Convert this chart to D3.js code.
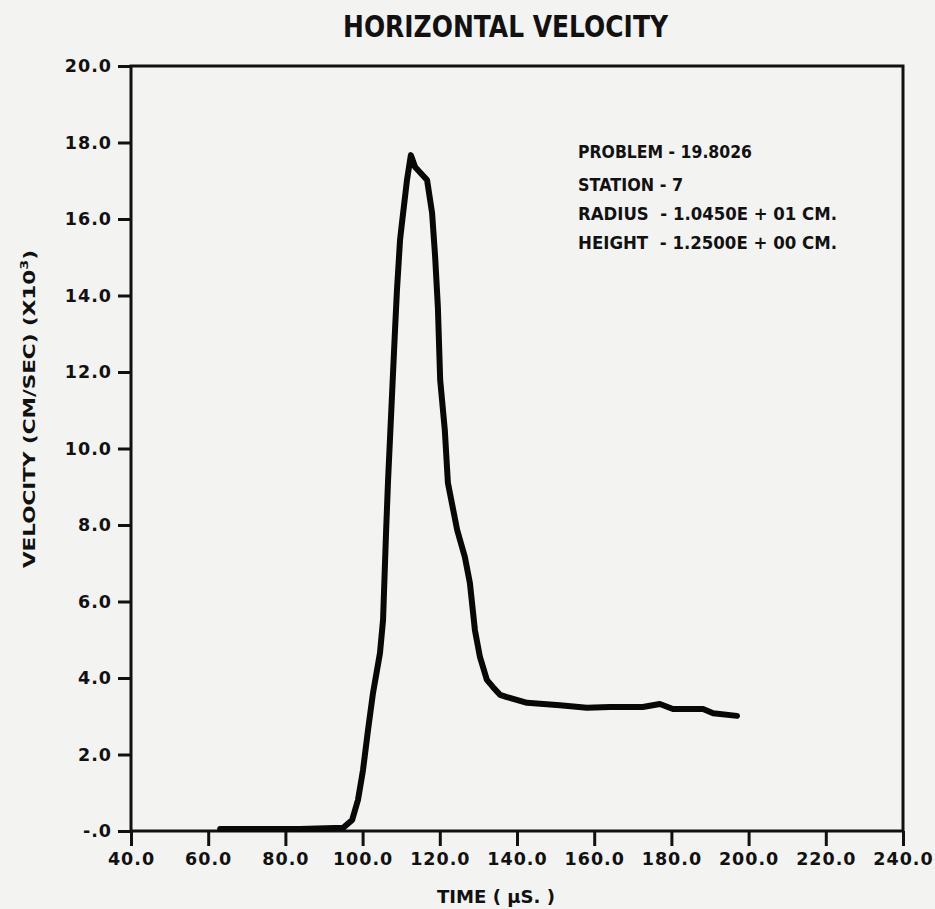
<!DOCTYPE html>
<html>
<head>
<meta charset="utf-8">
<script src="https://cdn.jsdelivr.net/npm/d3@7"></script>
<style>
  html, body { margin: 0; background: #f3f3f1; }
  svg { display: block; font-family: "DejaVu Sans", sans-serif; font-weight: bold; }
  .axis text { font-family: "DejaVu Sans", sans-serif; font-weight: bold; fill: #111; }
</style>
</head>
<body>
<svg id="chart"></svg>
<script>
var time = [63.1, 83.8, 92.8, 94.9, 97.3, 98.8, 100.1, 101.4, 102.7, 104.5, 105.3, 106.1, 106.6, 107.6,
  108.4, 108.9, 109.7, 110.2, 111.5, 112.5, 113.6, 116.7, 118.0, 118.8, 119.5, 120.1, 121.3, 122.1,
  124.5, 126.5, 127.8, 129.1, 130.4, 132.2, 133.8, 135.6, 137.4, 142.6, 151.1, 158.1, 164.1, 172.6,
  177.0, 180.4, 188.2, 190.8, 197.0];
var velocity = [0.05, 0.05, 0.08, 0.08, 0.29, 0.81, 1.59, 2.64, 3.61, 4.65, 5.52, 7.87, 9.18, 11.35,
  13.10, 14.14, 15.45, 15.90, 17.02, 17.67, 17.36, 17.02, 16.16, 15.00, 13.70, 11.79, 10.48, 9.10,
  7.87, 7.16, 6.48, 5.25, 4.55, 3.95, 3.76, 3.56, 3.50, 3.35, 3.29, 3.22, 3.24, 3.24,
  3.32, 3.19, 3.19, 3.08, 3.01];

var xTicks = [40, 60, 80, 100, 120, 140, 160, 180, 200, 220, 240];
var xTickLabels = ["40.0", "60.0", "80.0", "100.0", "120.0", "140.0", "160.0", "180.0", "200.0", "220.0", "240.0"];
var yTicks = [0, 2, 4, 6, 8, 10, 12, 14, 16, 18, 20];
var yTickLabels = ["-.0", "2.0", "4.0", "6.0", "8.0", "10.0", "12.0", "14.0", "16.0", "18.0", "20.0"];

var legendLines = ["PROBLEM - 19.8026", "STATION - 7", "RADIUS  - 1.0450E + 01 CM.", "HEIGHT  - 1.2500E + 00 CM."];
var legendWidths = [174, 105, 259, 259];

var W = 935, H = 909, M = { t: 66, r: 32, b: 78, l: 131 };
var iw = W - M.l - M.r, ih = H - M.t - M.b;
var ink = "#111";

var svg = d3.select("#chart").attr("width", W).attr("height", H);

svg.append("text").attr("x", 343).attr("y", 37).attr("font-size", 31)
  .attr("textLength", 325).attr("lengthAdjust", "spacingAndGlyphs").attr("fill", ink)
  .text("HORIZONTAL VELOCITY");

var g = svg.append("g").attr("transform", "translate(" + M.l + "," + M.t + ")");
var x = d3.scaleLinear().domain([40, 240]).range([0, iw]);
var y = d3.scaleLinear().domain([0, 20]).range([ih, 0]);

// axes (ticks only, frame drawn separately)
var gx = g.append("g").attr("class", "axis").attr("transform", "translate(0," + ih + ")")
  .call(d3.axisBottom(x).tickValues(xTicks).tickSize(15).tickSizeOuter(0).tickPadding(7)
    .tickFormat(function (d, i) { return xTickLabels[i]; }));
var gy = g.append("g").attr("class", "axis")
  .call(d3.axisLeft(y).tickValues(yTicks).tickSize(13).tickSizeOuter(0).tickPadding(6)
    .tickFormat(function (d, i) { return yTickLabels[i]; }));
[gx, gy].forEach(function (a) {
  a.select(".domain").remove();
  a.selectAll(".tick line").attr("stroke", ink).attr("stroke-width", 3);
  a.selectAll(".tick text").attr("font-size", 17.5).attr("letter-spacing", 1);
});

g.append("rect").attr("x", 0).attr("y", 0).attr("width", iw).attr("height", ih)
  .attr("fill", "none").attr("stroke", ink).attr("stroke-width", 3);

// curve
var pts = time.map(function (t, i) { return [t, velocity[i]]; });
g.append("path").datum(pts)
  .attr("fill", "none").attr("stroke", "#080808").attr("stroke-width", 6)
  .attr("stroke-linejoin", "round").attr("stroke-linecap", "round")
  .attr("d", d3.line().x(function (d) { return x(d[0]); }).y(function (d) { return y(d[1]); }));

// annotation block
var legBase = [158, 191, 220, 249];
svg.selectAll("text.leg").data(legendLines).enter().append("text").attr("class", "leg")
  .attr("x", 578).attr("y", function (d, i) { return legBase[i]; })
  .attr("font-size", 18).attr("fill", ink).style("white-space", "pre")
  .attr("textLength", function (d, i) { return legendWidths[i]; }).attr("lengthAdjust", "spacingAndGlyphs")
  .text(function (d) { return d; });

// axis titles
svg.append("text").attr("x", 496).attr("y", 903).attr("text-anchor", "middle").attr("font-size", 17.5)
  .attr("textLength", 118).attr("lengthAdjust", "spacingAndGlyphs").attr("fill", ink)
  .style("white-space", "pre").text("TIME ( \u03bcS. )");

var yt = svg.append("text").attr("transform", "translate(35,409) rotate(-90)").attr("text-anchor", "middle")
  .attr("font-size", 16.5).attr("textLength", 318).attr("lengthAdjust", "spacingAndGlyphs").attr("fill", ink);
yt.append("tspan").text("VELOCITY (CM/SEC) (X10");
yt.append("tspan").attr("dy", -7).attr("font-size", 11).text("3");
yt.append("tspan").attr("dy", 7).text(")");
</script>
</body>
</html>
